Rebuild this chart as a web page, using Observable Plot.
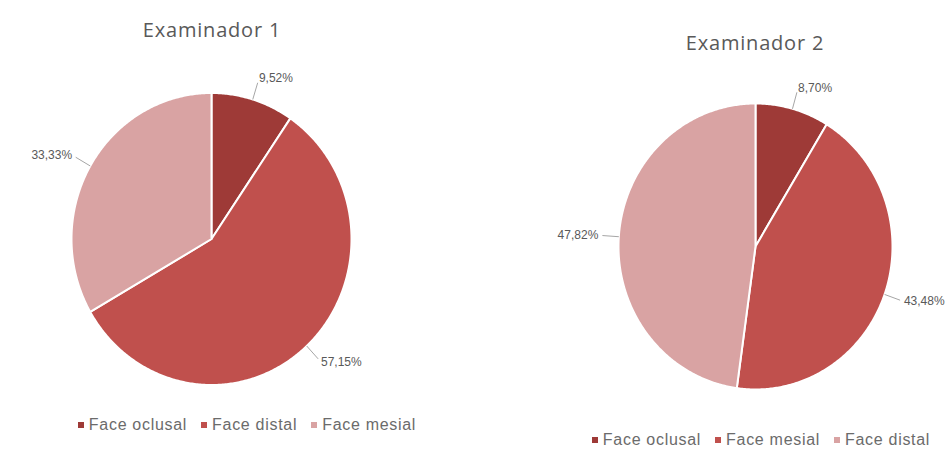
<!DOCTYPE html>
<html>
<head>
<meta charset="utf-8">
<script src="https://cdn.jsdelivr.net/npm/d3@7"></script>
<script src="https://cdn.jsdelivr.net/npm/@observablehq/plot@0.6"></script>
<style>
  html, body { margin: 0; padding: 0; background: #fff; }
  #fig { position: relative; width: 949px; height: 450px; overflow: hidden; background: #fff; }
  .title { position: absolute; text-align: center; font-family: "Open Sans", sans-serif; font-size: 20px; letter-spacing: 0.8px; color: #595959; white-space: nowrap; }
  .legend { position: absolute; text-align: center; font-family: "Liberation Sans", Arial, sans-serif; font-size: 16px; letter-spacing: 0.7px; color: #6b6b6b; white-space: nowrap; }
  .legend span.item { margin: 0 7px; }
  .legend span.sw { display: inline-block; width: 6px; height: 6px; margin-right: 5px; vertical-align: middle; position: relative; top: -1px; }
  .panel { position: absolute; }
  .panel svg { display: block; }
</style>
</head>
<body>
<div id="fig"></div>
<script>
// ---- data ----
const titles = ["Examinador 1", "Examinador 2"];
const categories1 = ["Face oclusal", "Face distal", "Face mesial"];
const values1 = [9.52, 57.15, 33.33];
const categories2 = ["Face oclusal", "Face mesial", "Face distal"];
const values2 = [8.70, 43.48, 47.82];
const sliceColors = ["#9E3A37", "#C0504D", "#D9A3A3"];

// ---- layout (pixels) ----
const panels = [
  {cats: categories1, vals: values1, title: titles[0],
   left: 0, top: 55, w: 474, h: 350, cx: 211, cy: 183.5, rx: 140, ry: 146,
   titleX: 212, titleY: 16, legendX: 247, legendY: 416},
  {cats: categories2, vals: values2, title: titles[1],
   left: 474, top: 60, w: 475, h: 360, cx: 281, cy: 186, rx: 137, ry: 143,
   titleX: 755, titleY: 29, legendX: 761, legendY: 431}
];

const fmt = v => d3.format(".2f")(v).replace(".", ",") + "%";
const fig = document.getElementById("fig");

for (const p of panels) {
  const arcs = d3.pie().sort(null).value(d => d.v)(p.cats.map((c, i) => ({c, v: p.vals[i], col: sliceColors[i]})));
  // polygon points for each slice (angles clockwise from top)
  const pts = [];
  for (const a of arcs) {
    pts.push({key: a.data.c, col: a.data.col, x: 0, y: 0});
    const n = Math.max(2, Math.ceil((a.endAngle - a.startAngle) / 0.01));
    for (let k = 0; k <= n; k++) {
      const t = a.startAngle + (a.endAngle - a.startAngle) * k / n;
      pts.push({key: a.data.c, col: a.data.col, x: Math.sin(t), y: Math.cos(t)});
    }
  }
  const labels = arcs.map(a => {
    const m = (a.startAngle + a.endAngle) / 2;
    return {
      text: fmt(a.data.v),
      right: Math.sin(m) >= 0,
      x1: Math.sin(m) * 1.0, y1: Math.cos(m) * 1.0,
      x2: Math.sin(m) * 1.12, y2: Math.cos(m) * 1.12,
      tx: Math.sin(m) * 1.15, ty: Math.cos(m) * 1.15
    };
  });

  const xDom = [-p.cx / p.rx, (p.w - p.cx) / p.rx];
  const yDom = [(p.cy - p.h) / p.ry, p.cy / p.ry];

  const chart = Plot.plot({
    width: p.w, height: p.h,
    margin: 0,
    x: {domain: xDom, axis: null},
    y: {domain: yDom, axis: null},
    color: {type: "identity"},
    marks: [
      Plot.line(pts, {x: "x", y: "y", z: "key", fill: "col", stroke: "white", strokeWidth: 2, curve: "linear-closed", strokeLinejoin: "round"}),
      Plot.link(labels, {x1: "x1", y1: "y1", x2: "x2", y2: "y2", stroke: "#A6A6A6", strokeWidth: 1}),
      Plot.text(labels.filter(d => d.right), {x: "tx", y: "ty", text: "text", textAnchor: "start", fill: "#595959", fontSize: 12, fontFamily: "Liberation Sans, Arial, sans-serif"}),
      Plot.text(labels.filter(d => !d.right), {x: "tx", y: "ty", text: "text", textAnchor: "end", fill: "#595959", fontSize: 12, fontFamily: "Liberation Sans, Arial, sans-serif"})
    ]
  });
  const holder = document.createElement("div");
  holder.className = "panel";
  holder.style.left = p.left + "px";
  holder.style.top = p.top + "px";
  holder.appendChild(chart);
  fig.appendChild(holder);

  const t = document.createElement("div");
  t.className = "title";
  t.textContent = p.title;
  t.style.left = (p.titleX - 150) + "px";
  t.style.width = "300px";
  t.style.top = p.titleY + "px";
  fig.appendChild(t);

  const lg = document.createElement("div");
  lg.className = "legend";
  lg.style.left = (p.legendX - 220) + "px";
  lg.style.width = "440px";
  lg.style.top = p.legendY + "px";
  p.cats.forEach((c, i) => {
    const it = document.createElement("span");
    it.className = "item";
    const sw = document.createElement("span");
    sw.className = "sw";
    sw.style.background = sliceColors[i];
    it.appendChild(sw);
    it.appendChild(document.createTextNode(c));
    lg.appendChild(it);
  });
  fig.appendChild(lg);
}
</script>
</body>
</html>
